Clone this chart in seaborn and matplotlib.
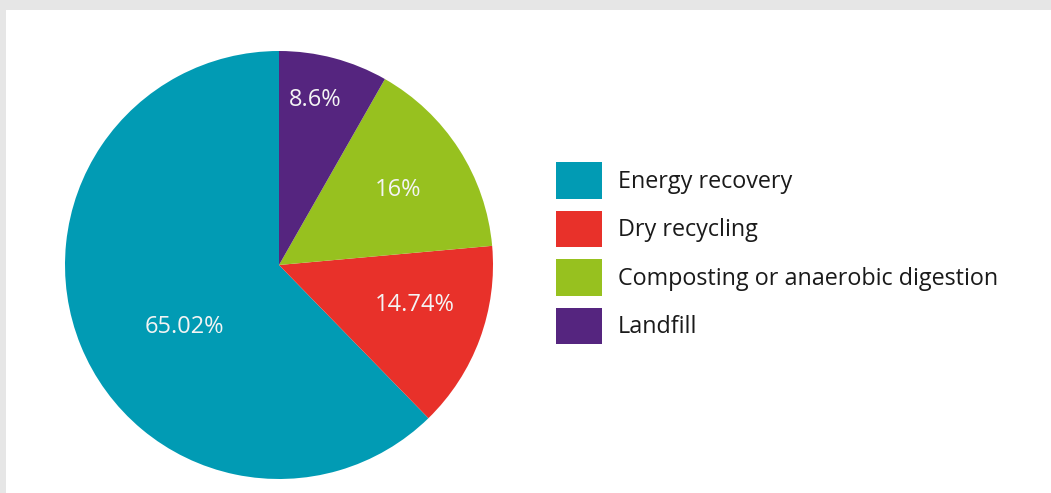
import matplotlib
matplotlib.use("Agg")
import matplotlib.pyplot as plt
import matplotlib.patches as mpatches
import numpy as np
import seaborn as sns

categories = ["Energy recovery", "Dry recycling", "Composting or anaerobic digestion", "Landfill"]
values = [65.02, 14.74, 16, 8.6]
value_labels = ["65.02%", "14.74%", "16%", "8.6%"]
colors = ["#019bb4", "#e8312a", "#97c11f", "#55257f"]

sns.set_theme(style="white")
plt.rcParams["font.family"] = ["Open Sans", "DejaVu Sans"]

W, H = 1051, 493
fig = plt.figure(figsize=(W / 100, H / 100), dpi=100, facecolor="#e6e6e6")
fig.patches.append(mpatches.Rectangle((6 / W, 0), 1, (H - 10) / H, transform=fig.transFigure,
                                      facecolor="white", edgecolor="none", zorder=-10))

cx, cy, r = 279, H - 265, 214
ax = fig.add_axes([(cx - r) / W, (cy - r) / H, 2 * r / W, 2 * r / H])
ax.set_facecolor("none")
ax.set_zorder(5)
wedges, _ = ax.pie(values, colors=colors, startangle=90, counterclock=True,
                   wedgeprops=dict(linewidth=0))
ax.set_xlim(-1, 1)
ax.set_ylim(-1, 1)
ax.set_aspect("equal")
ax.axis("off")

label_r = [0.53, 0.66, 0.66, 0.79]
label_shift = [11, 3.8, -0.5, 2.5]
for w, lab, lr, sh in zip(wedges, value_labels, label_r, label_shift):
    ang = np.deg2rad((w.theta1 + w.theta2) / 2 + sh)
    ax.text(lr * np.cos(ang), lr * np.sin(ang), lab, ha="center", va="center",
            color="#f4f4f4", fontsize=17)

fs = 16.8
px = fs * 100 / 72
handles = [mpatches.Patch(facecolor=c, edgecolor="none", label=l) for c, l in zip(colors, categories)]
leg = fig.legend(handles=handles, loc="upper left", bbox_to_anchor=(556 / W, (H - 162) / H),
                 frameon=False, fontsize=fs, handlelength=46 / px, handleheight=37 / (0.78 * px),
                 handletextpad=16 / px, labelspacing=12 / px, borderpad=0, borderaxespad=0,
                 labelcolor="#1a1a1a")
leg.set_zorder(6)

fig.savefig("out.png", dpi=100, facecolor=fig.get_facecolor())
